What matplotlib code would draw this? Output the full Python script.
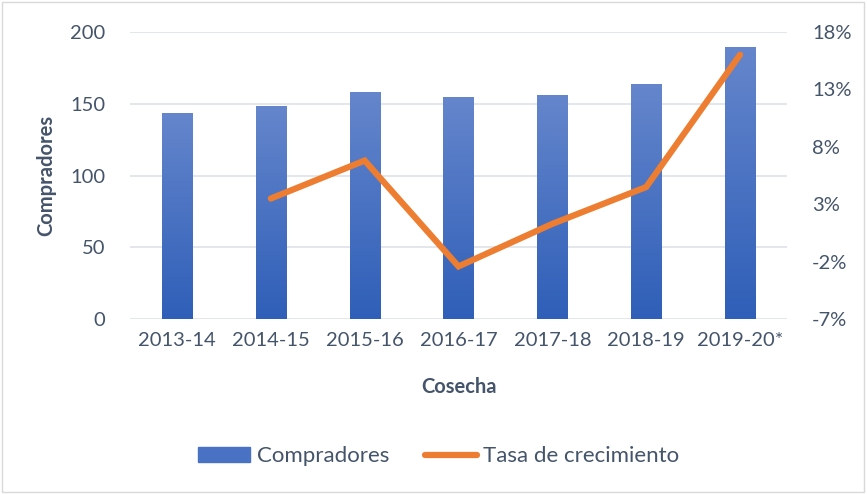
import matplotlib.pyplot as plt
import numpy as np
from matplotlib.patches import Rectangle
from matplotlib.colors import LinearSegmentedColormap

plt.rcParams['font.family'] = ['Lato', 'DejaVu Sans']

cosechas = ['2013-14', '2014-15', '2015-16', '2016-17', '2017-18', '2018-19', '2019-20*']
compradores = [143.4, 148.3, 158.0, 154.5, 155.9, 163.6, 189.3]
tasa = [None, 3.5, 6.8, -2.4, 1.3, 4.5, 16.0]  # %

txt = '#44546a'
grad = LinearSegmentedColormap.from_list('g', ['#2f5fb8', '#6586cc'])

fig = plt.figure(figsize=(8.67, 4.94), dpi=100)
ax = fig.add_axes([0.150, 0.3536, 0.7577, 0.5822])
ax2 = ax.twinx()

x = np.arange(len(cosechas))
bars = ax.bar(x, compradores, width=0.32, color='#4a72c4', zorder=2)
gimg = np.linspace(0, 1, 256).reshape(-1, 1)
for b in bars:
    bx, by, bw, bh = b.get_x(), b.get_y(), b.get_width(), b.get_height()
    im = ax.imshow(gimg, cmap=grad, origin='lower', aspect='auto',
                   extent=[bx, bx + bw, by, by + bh], zorder=2)
    im.set_clip_path(b)
ax.set_aspect('auto')
ax.set_xlim(-0.5, len(cosechas) - 0.5)
ax.set_ylim(0, 200)

xs = [i for i, v in enumerate(tasa) if v is not None]
ys = [v for v in tasa if v is not None]
ax2.plot(xs, ys, color='#ed7d31', lw=4.5, solid_capstyle='round',
         solid_joinstyle='miter', zorder=3)
ax2.set_ylim(-7, 18)
ax2.set_yticks([-7, -2, 3, 8, 13, 18])
ax2.set_yticklabels(['-7%', '-2%', '3%', '8%', '13%', '18%'])

ax.set_yticks([0, 50, 100, 150, 200])
ax.yaxis.grid(True, color='#e1e5ea', lw=1.3, zorder=0)
ax.set_axisbelow(True)
ax.set_xticks(x)
ax.set_xticklabels(cosechas)

fs = 14.5
for a in (ax, ax2):
    for s in a.spines.values():
        s.set_visible(False)
    a.tick_params(length=0, colors=txt, labelsize=fs)
ax.tick_params(axis='x', pad=9)
ax.tick_params(axis='y', pad=18)
ax2.tick_params(axis='y', pad=18)

ax.set_ylabel('Compradores', fontsize=fs, fontweight='bold', color=txt, labelpad=10)
ax.set_xlabel('Cosecha', fontsize=fs, fontweight='bold', color=txt, labelpad=20)

h1 = Rectangle((0, 0), 1, 1, color='#4a72c4')
h2 = plt.Line2D([0], [0], color='#ed7d31', lw=4.5, solid_capstyle='round')
fig.legend([h1, h2], ['Compradores', 'Tasa de crecimiento'], loc='center',
           bbox_to_anchor=(0.506, 0.076), ncol=2, frameon=False, fontsize=16,
           labelcolor=txt, handlelength=2.35, handletextpad=0.3, columnspacing=1.6)

fig.patches.append(Rectangle((0.002, 0.004), 0.994, 0.992, transform=fig.transFigure,
                             fill=False, edgecolor='#d9d9d9', lw=1))

fig.savefig('out.png', dpi=100)
